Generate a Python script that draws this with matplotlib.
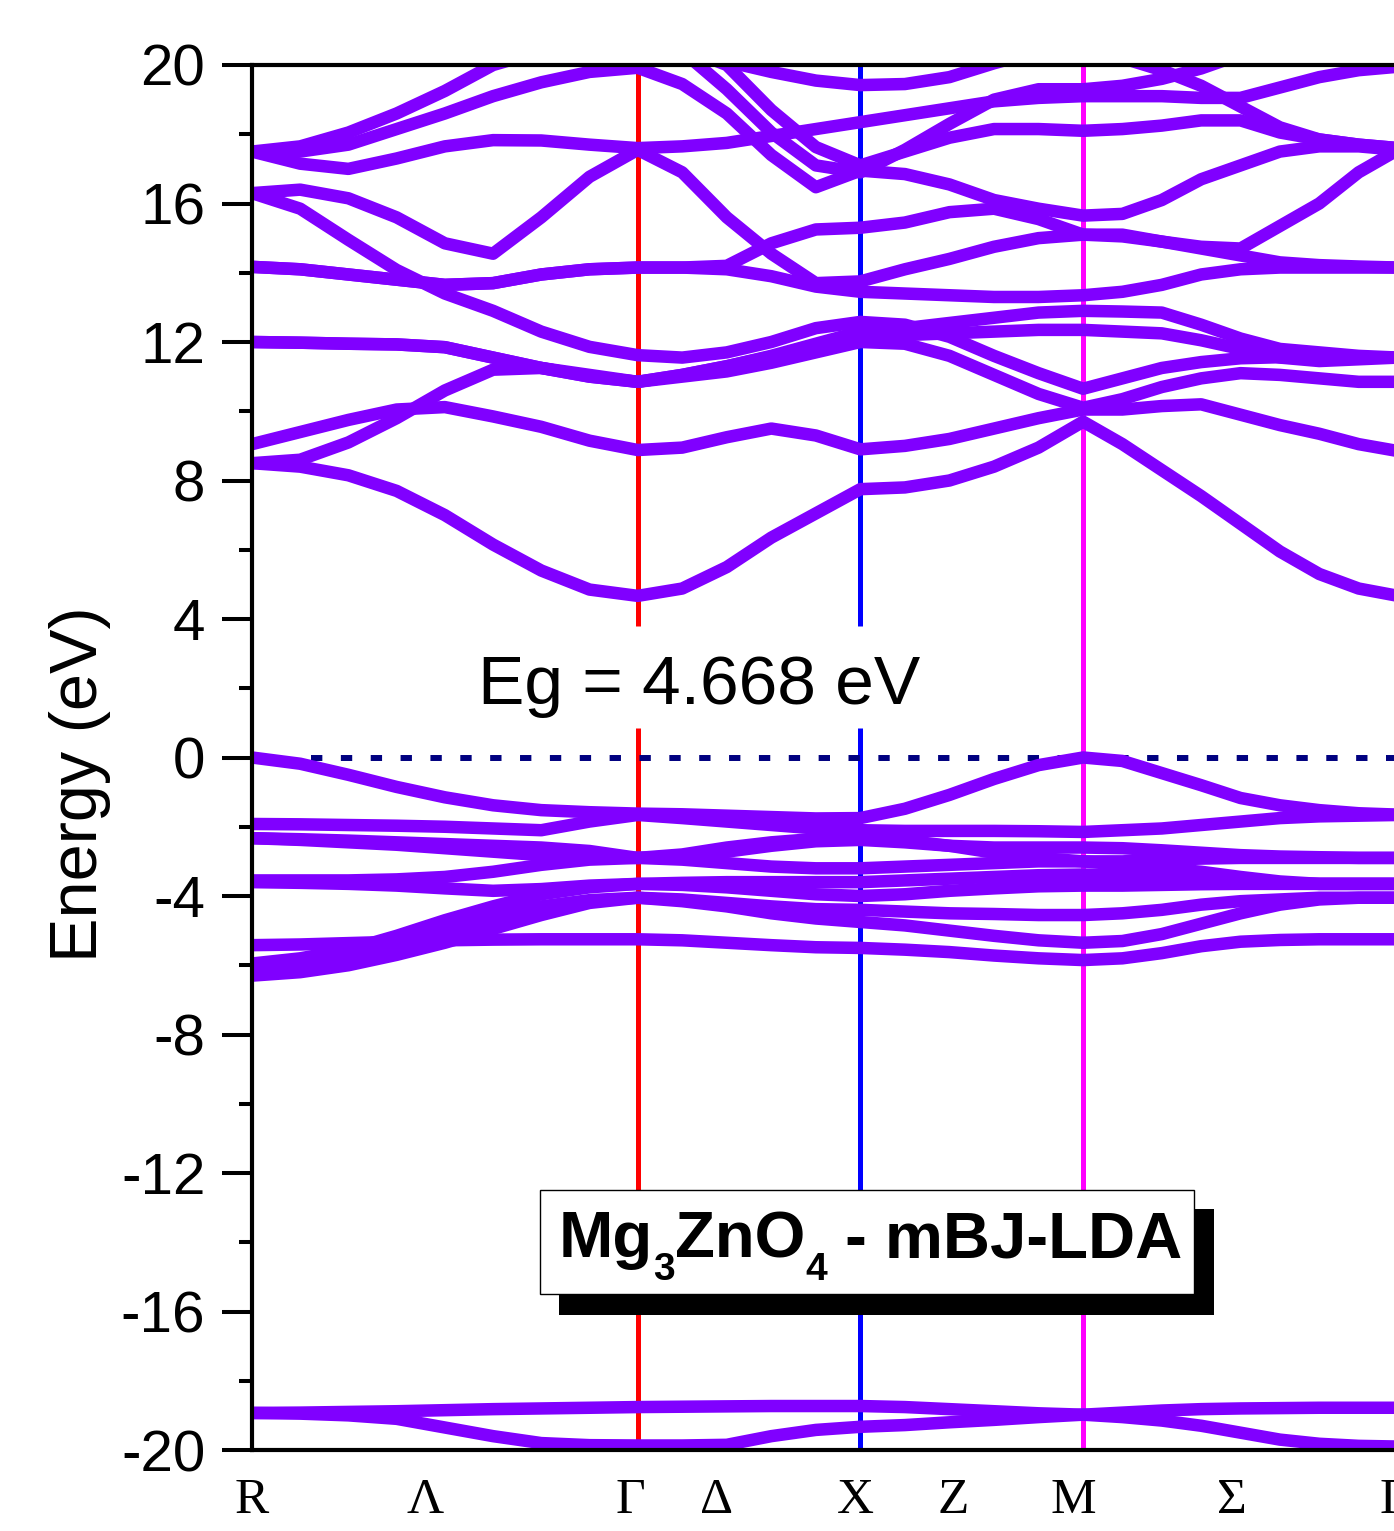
import numpy as np
import matplotlib.pyplot as plt
from matplotlib.patches import Rectangle
from matplotlib.ticker import MultipleLocator

plt.rcParams['axes.unicode_minus'] = False
plt.rcParams['font.family'] = 'Liberation Sans'

nan = np.nan

# k-path R - Gamma - X - M - Gamma (segment lengths in 2pi/a) and samples per segment
seg_len = [0.8660, 0.5, 0.5, 0.7071]
seg_div = [8, 5, 5, 8]

# x labels (symbol, position along the path)
kpt_labels = ['R', 'Λ', 'Γ', 'Δ', 'X', 'Z', 'M', 'Σ', 'Γ']
kpt_label_pos = [0.0, 0.388, 0.849, 1.044, 1.354, 1.574, 1.843, 2.200, 2.564]

# band energies (eV) read at the sampled k-points
# columns: R .. Gamma | .. X | .. M | .. Gamma
low1 = [-18.93, -18.92, -18.90, -18.88, -18.85, -18.82, -18.80, -18.78, -18.76,
        -18.75, -18.74, -18.73, -18.73, -18.73,
        -18.76, -18.82, -18.88, -18.94, -18.98,
        -18.92, -18.86, -18.82, -18.80, -18.79, -18.78, -18.78, -18.78]
low2 = [-18.93, -18.95, -19.00, -19.10, -19.35, -19.60, -19.80, -19.86, -19.87,
        -19.87, -19.85, -19.60, -19.42, -19.33,
        -19.28, -19.20, -19.13, -19.05, -18.98,
        -19.05, -19.15, -19.30, -19.50, -19.70, -19.82, -19.88, -19.90]

v1 = [0.00, -0.18, -0.50, -0.85, -1.15, -1.38, -1.52, -1.58, -1.62,
      -1.64, -1.68, -1.72, -1.76, -1.75,
      -1.48, -1.08, -0.62, -0.22, 0.00,
      -0.10, -0.45, -0.80, -1.17, -1.38, -1.52, -1.61, -1.65]
v2 = [-1.92, -1.93, -1.95, -1.97, -2.00, -2.05, -2.10, -1.85, -1.66,
      -1.75, -1.85, -1.95, -2.05, -2.10,
      -2.12, -2.12, -2.12, -2.13, -2.15,
      -2.10, -2.05, -1.95, -1.85, -1.75, -1.70, -1.68, -1.66]
v3 = [-2.33, -2.38, -2.45, -2.52, -2.62, -2.72, -2.82, -2.88, -2.90,
      -2.85, -2.72, -2.55, -2.42, -2.38,
      -2.45, -2.55, -2.60, -2.60, -2.60,
      -2.62, -2.68, -2.75, -2.82, -2.86, -2.88, -2.90, -2.90]
v4 = [-3.55, -3.55, -3.55, -3.52, -3.45, -3.30, -3.10, -2.95, -2.90,
      -2.95, -3.05, -3.15, -3.20, -3.20,
      -3.15, -3.10, -3.05, -3.00, -3.00,
      -3.00, -2.95, -2.92, -2.90, -2.90, -2.90, -2.90, -2.90]
v5 = [-3.60, -3.62, -3.65, -3.70, -3.78, -3.85, -3.80, -3.70, -3.65,
      -3.62, -3.60, -3.60, -3.60, -3.60,
      -3.55, -3.50, -3.45, -3.40, -3.38,
      -3.40, -3.45, -3.55, -3.60, -3.62, -3.65, -3.65, -3.65]
v6 = [-5.95, -5.80, -5.55, -5.15, -4.70, -4.30, -3.95, -3.75, -3.65,
      -3.68, -3.75, -3.85, -3.95, -4.00,
      -3.95, -3.85, -3.78, -3.72, -3.70,
      -3.70, -3.68, -3.66, -3.65, -3.65, -3.65, -3.65, -3.65]
v7 = [-6.30, -6.20, -6.00, -5.70, -5.35, -4.95, -4.55, -4.20, -4.05,
      -4.10, -4.20, -4.30, -4.38, -4.40,
      -4.45, -4.50, -4.52, -4.55, -4.55,
      -4.50, -4.40, -4.25, -4.15, -4.10, -4.05, -4.05, -4.05]
v8 = [-5.42, -5.40, -5.36, -5.32, -5.28, -5.26, -5.25, -5.25, -5.25,
      -5.28, -5.35, -5.42, -5.48, -5.50,
      -5.55, -5.62, -5.72, -5.80, -5.85,
      -5.80, -5.65, -5.45, -5.32, -5.27, -5.25, -5.25, -5.25]
v9 = [-6.00, -5.90, -5.70, -5.40, -5.00, -4.60, -4.30, -4.12, -4.05,
      -4.15, -4.30, -4.50, -4.65, -4.75,
      -4.85, -5.00, -5.15, -5.28, -5.35,
      -5.30, -5.10, -4.80, -4.50, -4.25, -4.10, -4.05, -4.05]
v10 = [-2.33, -2.36, -2.40, -2.45, -2.50, -2.55, -2.60, -2.70, -2.90,
       -2.80, -2.60, -2.45, -2.35, -2.30,
       -2.40, -2.55, -2.75, -2.90, -3.00,
       -3.10, -3.20, -3.30, -3.45, -3.58, -3.65, -3.65, -3.65]

c1 = [8.50, 8.40, 8.15, 7.70, 7.00, 6.15, 5.40, 4.85, 4.668,
      4.88, 5.50, 6.35, 7.05, 7.75,
      7.80, 8.00, 8.40, 8.95, 9.70,
      9.05, 8.30, 7.55, 6.75, 5.95, 5.30, 4.88, 4.668]
c2 = [9.05, 9.40, 9.75, 10.05, 10.12, 9.85, 9.55, 9.15, 8.88,
      8.95, 9.25, 9.50, 9.30, 8.90,
      9.00, 9.20, 9.50, 9.80, 10.05,
      10.05, 10.15, 10.20, 9.90, 9.60, 9.35, 9.05, 8.85]
c3 = [8.50, 8.60, 9.10, 9.80, 10.60, 11.20, 11.25, 11.05, 10.85,
      11.00, 11.15, 11.40, 11.70, 12.00,
      11.95, 11.60, 11.05, 10.50, 10.10,
      10.35, 10.70, 10.95, 11.10, 11.05, 10.95, 10.85, 10.85]
c4 = [12.00, 11.98, 11.95, 11.93, 11.85, 11.55, 11.25, 11.00, 10.85,
      11.05, 11.30, 11.58, 11.80, 12.10,
      12.20, 12.25, 12.30, 12.35, 12.35,
      12.30, 12.25, 12.05, 11.80, 11.55, 11.45, 11.50, 11.55]
c5 = [16.30, 15.85, 14.95, 14.08, 13.40, 12.90, 12.30, 11.86, 11.62,
      11.55, 11.70, 12.00, 12.40, 12.58,
      12.50, 12.15, 11.60, 11.10, 10.65,
      10.95, 11.25, 11.42, 11.53, 11.56, 11.56, 11.55, 11.55]
c6 = [14.17, 14.10, 13.95, 13.80, 13.65, 13.70, 13.95, 14.10, 14.15,
      14.15, 14.10, 13.90, 13.60, 13.45,
      13.40, 13.35, 13.30, 13.30, 13.35,
      13.45, 13.65, 13.95, 14.10, 14.15, 14.15, 14.15, 14.15]
c7 = [14.17, 14.10, 13.95, 13.80, 13.65, 13.70, 13.95, 14.10, 14.15,
      14.15, 14.20, 14.85, 15.25, 15.30,
      15.45, 15.75, 15.85, 15.55, 15.10,
      15.05, 14.90, 14.70, 14.50, 14.30, 14.22, 14.18, 14.15]
c8 = [17.50, 17.50, 17.70, 18.15, 18.60, 19.10, 19.50, 19.80, 19.92,
      19.45, 18.60, 17.40, 16.47, 16.95,
      16.85, 16.55, 16.10, 15.85, 15.65,
      15.70, 16.10, 16.70, 17.10, 17.50, 17.65, 17.65, 17.55]
c9 = [16.30, 16.40, 16.15, 15.60, 14.85, 14.55, 15.60, 16.77, 17.55,
      16.90, 15.60, 14.55, 13.70, 13.75,
      14.10, 14.40, 14.75, 15.00, 15.10,
      15.10, 14.90, 14.75, 14.70, 15.35, 16.00, 16.90, 17.55]
c10 = [17.50, 17.15, 17.00, 17.30, 17.65, 17.83, 17.82, 17.70, 17.60,
       17.65, 17.75, 17.95, 18.15, 18.35,
       18.55, 18.75, 18.95, 19.05, 19.10,
       19.10, 19.10, 19.05, 19.05, 19.35, 19.65, 19.85, 19.95]
c11 = [17.50, 17.65, 18.05, 18.60, 19.25, 20.00, 20.40, 20.60, 20.70,
       20.50, 20.00, 18.70, 17.63, 17.10,
       17.50, 17.90, 18.15, 18.15, 18.10,
       18.15, 18.25, 18.40, 18.40, 18.05, 17.85, 17.70, 17.60]
c12 = [nan, nan, nan, nan, nan, nan, nan, nan, nan,
       20.40, 19.30, 18.05, 17.10, 16.90,
       17.55, 18.30, 19.00, 19.30, 19.30,
       19.40, 19.60, 19.90, 20.30, nan, nan, nan, nan]
c13 = [nan, nan, nan, nan, nan, nan, nan, nan, nan,
       nan, 20.10, 19.80, 19.55, 19.42,
       19.45, 19.65, 20.05, 20.40, nan,
       nan, nan, nan, nan, nan, nan, nan, nan]
c14 = [nan, nan, nan, nan, nan, nan, nan, nan, nan,
       nan, nan, nan, nan, nan,
       nan, nan, nan, nan, 20.60,
       20.20, 19.85, 19.40, 18.80, 18.20, 17.85, 17.70, 17.60]
c15 = [12.00, 11.98, 11.95, 11.93, 11.85, 11.55, 11.25, 11.00, 10.85,
       11.05, 11.30, 11.60, 11.95, 12.30,
       12.40, 12.55, 12.70, 12.85, 12.90,
       12.88, 12.85, 12.50, 12.10, 11.80, 11.70, 11.60, 11.55]

lower_bands = [low1, low2]
valence_bands = [v1, v2, v3, v4, v5, v6, v7, v8, v9, v10]
conduction_bands = [c1, c2, c3, c4, c5, c6, c7, c8, c9, c10, c11, c12, c13, c14, c15]

gap_text = 'Eg = 4.668 eV'

# build the k axis
k = [0.0]
start = 0.0
for L, n in zip(seg_len, seg_div):
    k += list(start + L * np.arange(1, n + 1) / n)
    start += L
k = np.array(k)
k_nodes = np.cumsum([0.0] + seg_len)
k_G, k_X, k_M, k_end = k_nodes[1], k_nodes[2], k_nodes[3], k_nodes[4]

W, H = 1394, 1531
fig = plt.figure(figsize=(W / 100, H / 100), dpi=100)
ax = fig.add_axes([252 / W, (H - 1450) / H, 1146 / W, 1385 / H])

# high-symmetry lines (Gamma and X broken around the gap label)
vl = dict(lw=3.6, solid_capstyle='butt', zorder=1)
ax.plot([k_G, k_G], [3.8, 20], color='#FF0000', **vl)
ax.plot([k_G, k_G], [-20, 0.85], color='#FF0000', **vl)
ax.plot([k_X, k_X], [3.8, 20], color='#0000FF', **vl)
ax.plot([k_X, k_X], [-20, 0.85], color='#0000FF', **vl)
ax.plot([k_M, k_M], [-20, 20], color='#FF00FF', **vl)

# Fermi level
ax.plot([0.1325, k_end], [0, 0], color='#000080', lw=4.3,
        linestyle=(0, (1.9, 3.1)), zorder=1)

for band in lower_bands + valence_bands + conduction_bands:
    ax.plot(k, band, color='#8000FF', lw=9, solid_joinstyle='round', zorder=2)

ax.set_xlim(0, k_end)
ax.set_ylim(-20, 20)

ax.set_yticks(np.arange(-20, 21, 4))
ax.set_yticklabels([str(v) for v in range(-20, 21, 4)])
ax.yaxis.set_minor_locator(MultipleLocator(2))
ax.tick_params(axis='y', which='major', direction='out', length=21.6, width=2.9,
               labelsize=42, pad=12)
ax.tick_params(axis='y', which='minor', direction='out', length=9.4, width=2.9)

ax.set_xticks(kpt_label_pos)
ax.set_xticklabels(kpt_labels)
ax.tick_params(axis='x', length=0, labelsize=37, pad=20)
for t in ax.get_xticklabels():
    t.set_fontfamily('Liberation Serif')

for sp in ax.spines.values():
    sp.set_linewidth(3)
    sp.set_zorder(3)

fig.text(80 / W, 1 - 784 / H, 'Energy (eV)', rotation=90, ha='center', va='center',
         fontsize=48)

ax.text(1.004, 1.55, gap_text, ha='center', va='baseline', fontsize=50, zorder=4)

# label box with black shadow
fig.patches.append(Rectangle((559 / W, 1 - 1315 / H), 655 / W, 106 / H,
                             transform=fig.transFigure, facecolor='black',
                             edgecolor='none', zorder=5))
fig.patches.append(Rectangle((540 / W, 1 - 1294 / H), 654 / W, 104 / H,
                             transform=fig.transFigure, facecolor='white',
                             edgecolor='black', lw=1, zorder=6))

renderer = fig.canvas.get_renderer()
pieces = [('Mg', 47, 0), ('3', 28, -23), ('ZnO', 47, 0), ('4', 28, -23),
          (' - mBJ-LDA', 47, 0)]
x_px = 559
base_px = H - 1257
for txt, size, dy in pieces:
    t = fig.text(x_px / W, (base_px + dy) / H, txt, fontsize=size,
                 fontweight='bold', ha='left', va='baseline', zorder=7)
    bb = t.get_window_extent(renderer=renderer)
    x_px = bb.x1

fig.savefig('out.png', dpi=100)
